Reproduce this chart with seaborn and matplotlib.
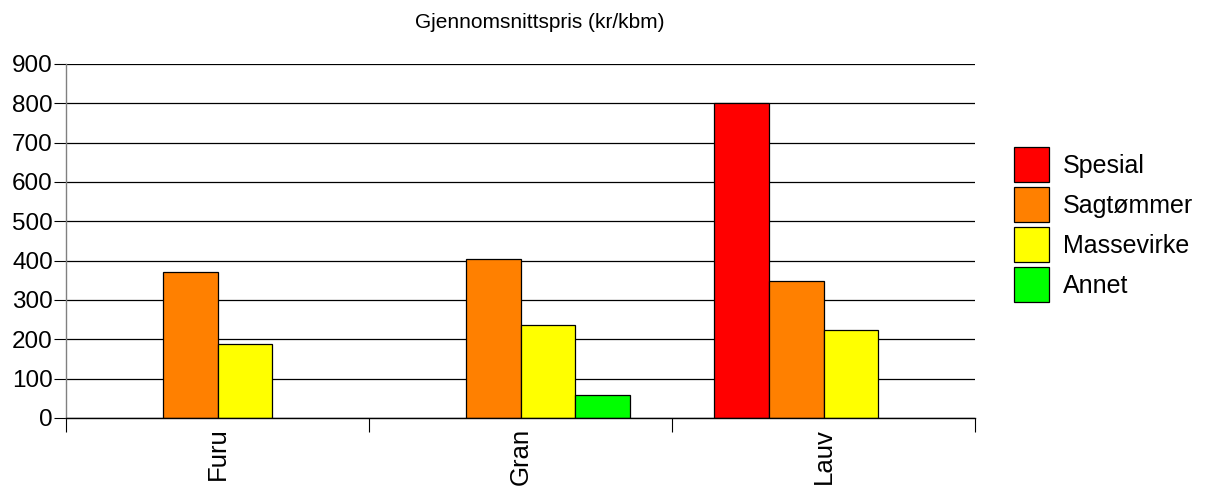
import matplotlib
matplotlib.use("Agg")
import matplotlib.pyplot as plt
import seaborn as sns
import pandas as pd
from matplotlib.patches import Patch

categories = ["Furu", "Gran", "Lauv"]
series = ["Spesial", "Sagtømmer", "Massevirke", "Annet"]
spesial = [None, None, 800]
sagtommer = [370, 403, 349]
massevirke = [187, 237, 223]
annet = [None, 58, None]
colors = ["#ff0000", "#ff8000", "#ffff00", "#00ff00"]
yticks = [0, 100, 200, 300, 400, 500, 600, 700, 800, 900]

rows = []
for s, vals in zip(series, [spesial, sagtommer, massevirke, annet]):
    for c, v in zip(categories, vals):
        if v is not None:
            rows.append({"cat": c, "series": s, "value": v})
df = pd.DataFrame(rows)

sns.set_style("white")
plt.rcParams["font.family"] = ["Liberation Sans", "DejaVu Sans"]
plt.rcParams["text.color"] = "black"
plt.rcParams["xtick.color"] = "black"
plt.rcParams["ytick.color"] = "black"
plt.rcParams["axes.labelcolor"] = "black"

fig = plt.figure(figsize=(12.11, 4.88), dpi=100)
ax = fig.add_axes([66 / 1211, 1 - 418 / 488, (975 - 66) / 1211, (418 - 64) / 488])

sns.barplot(data=df, x="cat", y="value", hue="series", order=categories,
            hue_order=series, palette=colors, width=0.726, dodge=True,
            edgecolor="black", linewidth=0.9, saturation=1, ax=ax, legend=False)

ax.set_xlim(-0.5, 2.5)
ax.set_ylim(0, 900)
ax.set_yticks(yticks)
ax.set_yticklabels([str(t) for t in yticks], fontsize=17.5)
ax.yaxis.grid(True, color="black", linewidth=0.9)
ax.set_axisbelow(True)
ax.set_xlabel("")
ax.set_ylabel("")

ax.set_xticks(range(len(categories)))
ax.set_xticklabels(categories, rotation=90, fontsize=18.5)
ax.tick_params(axis="x", which="major", length=0, pad=7)
ax.set_xticks([-0.5, 0.5, 1.5, 2.5], minor=True)
ax.tick_params(axis="x", which="minor", length=10, width=0.8, color="black", direction="out", bottom=True)
ax.tick_params(axis="y", which="major", length=9, width=0.8, color="black", direction="out", left=True, pad=0.5)

for side in ["top", "right"]:
    ax.spines[side].set_visible(False)
ax.spines["left"].set_color("#808080")
ax.spines["bottom"].set_color("black")
ax.spines["left"].set_linewidth(1)
ax.spines["bottom"].set_linewidth(1)

handles = [Patch(facecolor=c, edgecolor="black", linewidth=0.9, label=s) for s, c in zip(series, colors)]
fig.legend(handles=handles, loc="upper left", bbox_to_anchor=(1014 / 1211, 1 - 147 / 488),
           frameon=False, fontsize=18, handlelength=1.4, handleheight=1.78,
           labelspacing=0.2, handletextpad=0.56, borderaxespad=0, borderpad=0)

fig.text(540 / 1211, 1 - 22 / 488, "Gjennomsnittspris (kr/kbm)", ha="center", va="center", fontsize=15)

fig.savefig("out.png", dpi=100)
